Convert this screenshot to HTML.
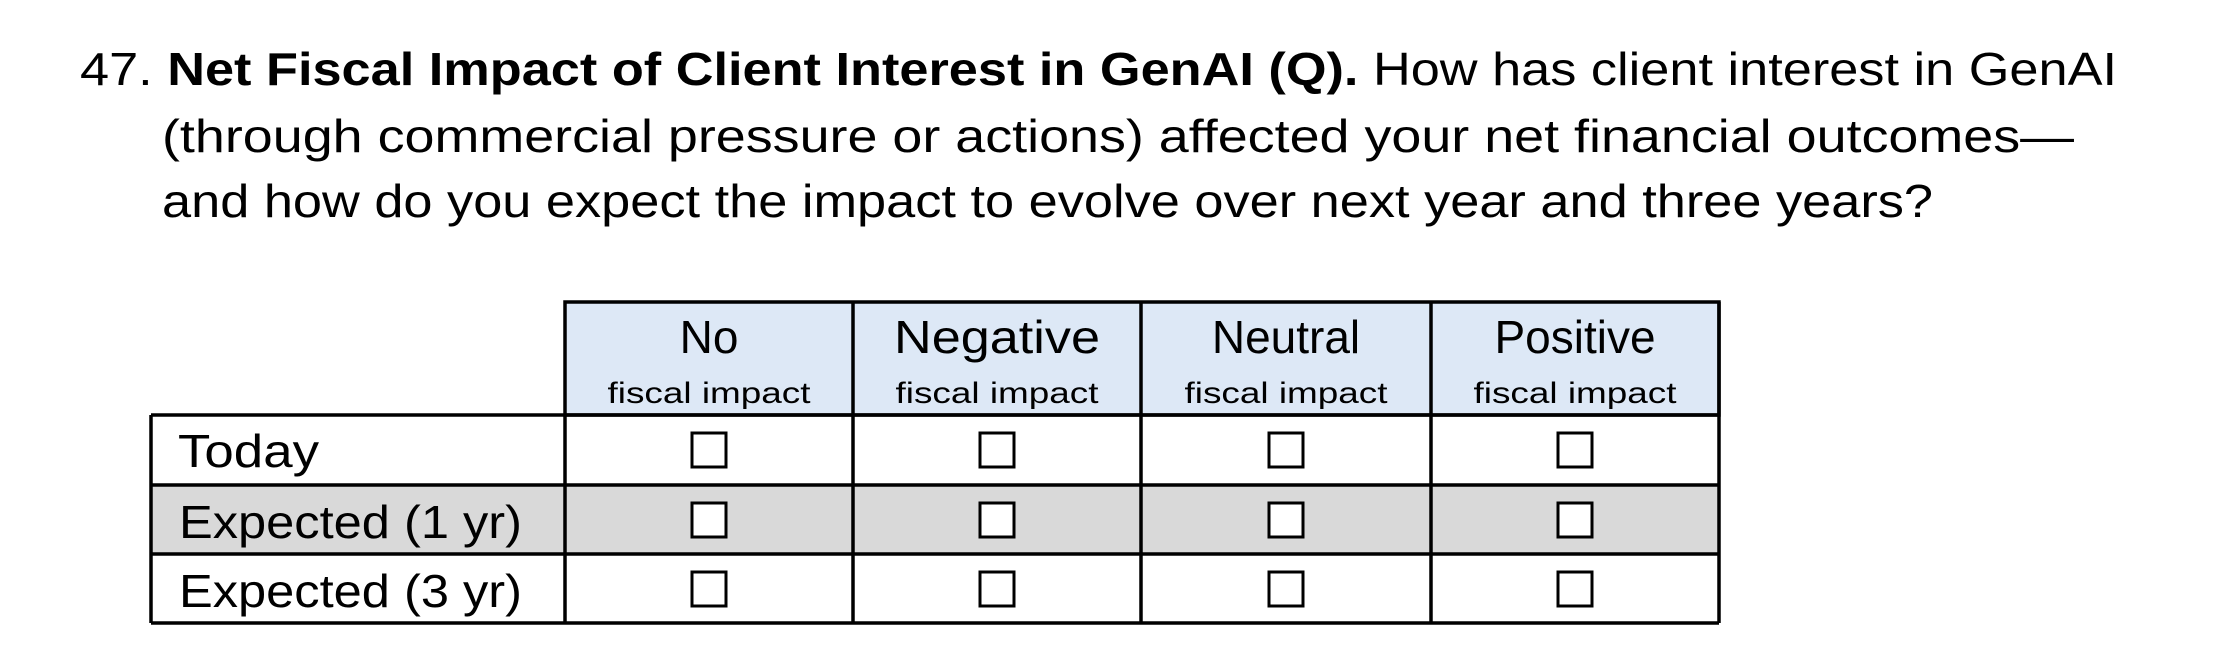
<!DOCTYPE html>
<html><head><meta charset="utf-8"><style>
html,body{margin:0;padding:0;background:#fff;width:2214px;height:666px;overflow:hidden}
svg{display:block}
text{font-family:"Liberation Sans",sans-serif;fill:#000}
</style></head><body>
<svg width="2214" height="666" viewBox="0 0 2214 666">
<text x="80" y="85" font-size="46" textLength="2037" lengthAdjust="spacingAndGlyphs">47. <tspan font-weight="bold">Net Fiscal Impact of Client Interest in GenAI (Q).</tspan> How has client interest in GenAI</text>
<text x="162" y="152" font-size="46" textLength="1912" lengthAdjust="spacingAndGlyphs">(through commercial pressure or actions) affected your net financial outcomes—</text>
<text x="162" y="217" font-size="46" textLength="1771" lengthAdjust="spacingAndGlyphs">and how do you expect the impact to evolve over next year and three years?</text>

<g>
<rect x="565" y="302" width="1154" height="113" fill="#dde8f6"/>
<rect x="151" y="485" width="1568" height="69" fill="#d9d9d9"/>
<g stroke="#000" stroke-width="3.5" fill="none">
<rect x="565" y="302" width="1154" height="113"/>
<line x1="151" y1="415" x2="1719" y2="415"/>
<line x1="151" y1="485" x2="1719" y2="485"/>
<line x1="151" y1="554" x2="1719" y2="554"/>
<line x1="151" y1="623" x2="1719" y2="623"/>
<line x1="151" y1="415" x2="151" y2="623"/>
<line x1="565" y1="415" x2="565" y2="623"/>
<line x1="853" y1="302" x2="853" y2="623"/>
<line x1="1141" y1="302" x2="1141" y2="623"/>
<line x1="1431" y1="302" x2="1431" y2="623"/>
<line x1="1719" y1="302" x2="1719" y2="623"/>
</g>
<g font-size="46" text-anchor="middle">
<text x="709" y="353">No</text>
<text x="997" y="353" textLength="206" lengthAdjust="spacingAndGlyphs">Negative</text>
<text x="1286" y="353">Neutral</text>
<text x="1575" y="353">Positive</text>
</g>
<g font-size="30" text-anchor="middle">
<text x="709" y="403" textLength="203" lengthAdjust="spacingAndGlyphs">fiscal impact</text>
<text x="997" y="403" textLength="203" lengthAdjust="spacingAndGlyphs">fiscal impact</text>
<text x="1286" y="403" textLength="203" lengthAdjust="spacingAndGlyphs">fiscal impact</text>
<text x="1575" y="403" textLength="203" lengthAdjust="spacingAndGlyphs">fiscal impact</text>
</g>
<g font-size="46">
<text x="178" y="467" textLength="141" lengthAdjust="spacingAndGlyphs">Today</text>
<text x="179" y="538" textLength="343" lengthAdjust="spacingAndGlyphs">Expected (1 yr)</text>
<text x="179" y="607" textLength="343" lengthAdjust="spacingAndGlyphs">Expected (3 yr)</text>
</g>
<g stroke="#000" stroke-width="3" fill="#fff">
<rect x="692" y="433" width="34" height="34"/>
<rect x="980" y="433" width="34" height="34"/>
<rect x="1269" y="433" width="34" height="34"/>
<rect x="1558" y="433" width="34" height="34"/>
<rect x="692" y="503" width="34" height="34"/>
<rect x="980" y="503" width="34" height="34"/>
<rect x="1269" y="503" width="34" height="34"/>
<rect x="1558" y="503" width="34" height="34"/>
<rect x="692" y="572" width="34" height="34"/>
<rect x="980" y="572" width="34" height="34"/>
<rect x="1269" y="572" width="34" height="34"/>
<rect x="1558" y="572" width="34" height="34"/>
</g>
</g>
</svg>
</body></html>
